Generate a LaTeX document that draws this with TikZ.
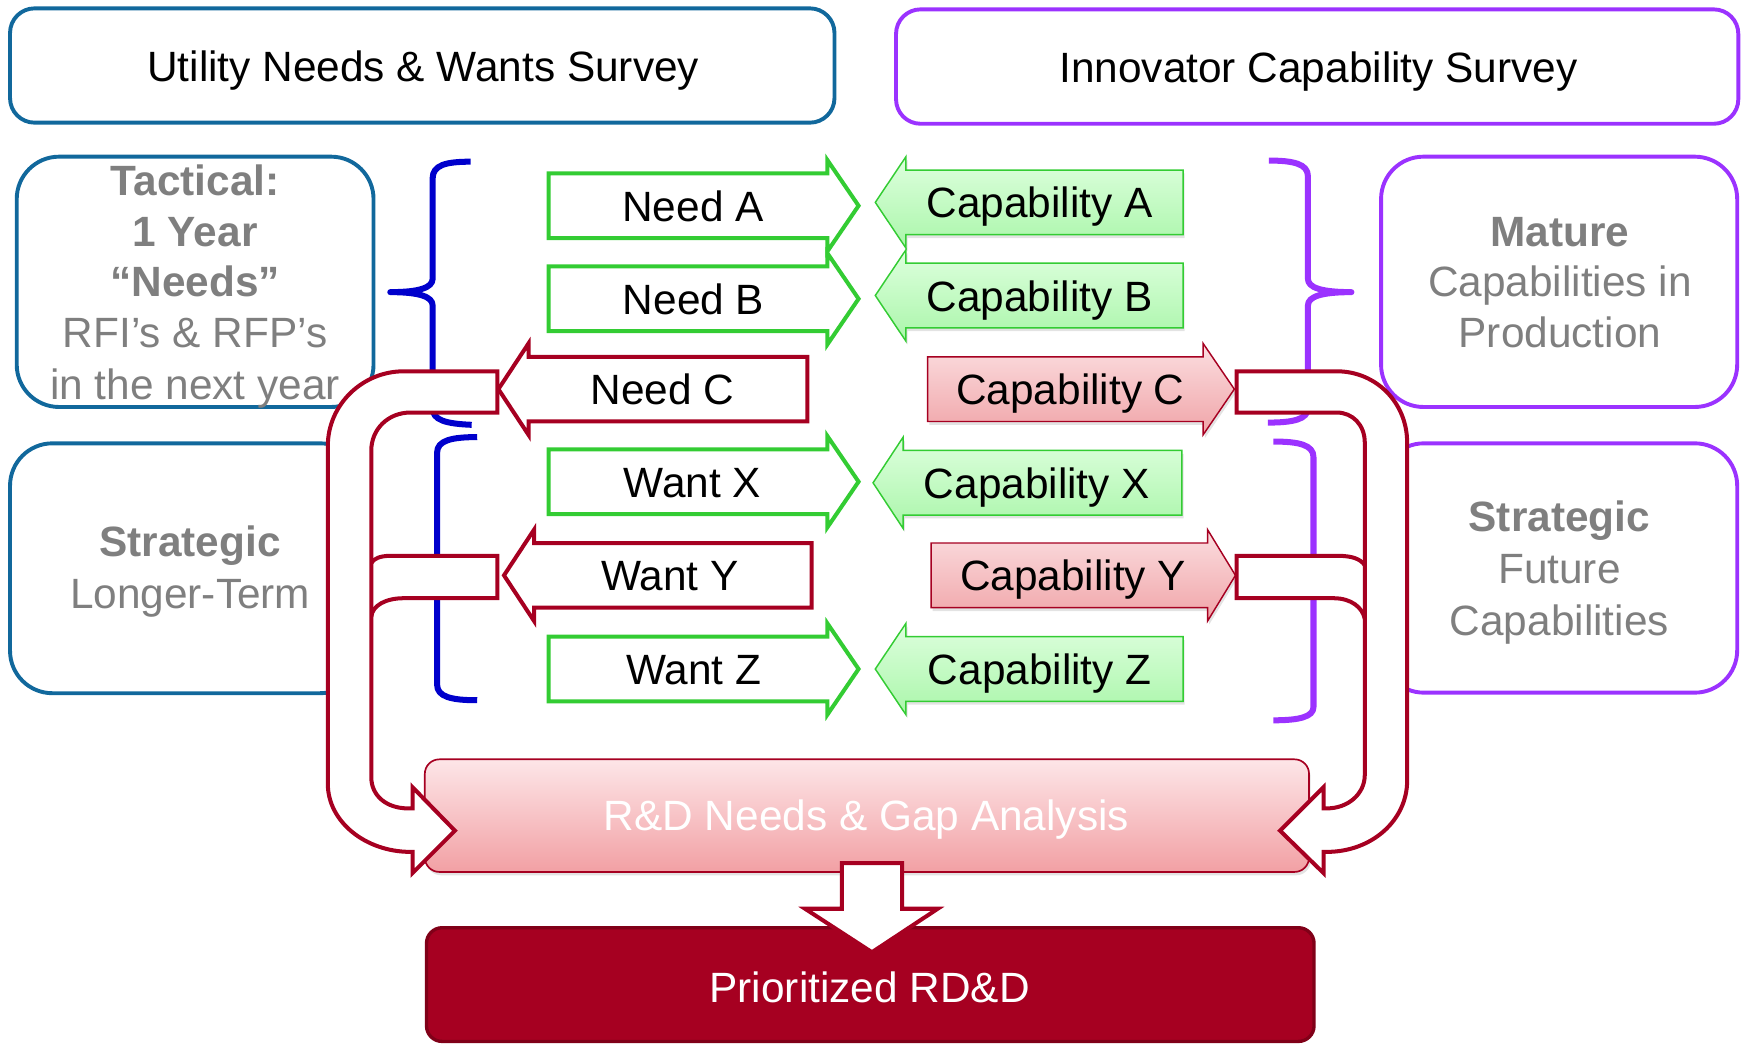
\documentclass[tikz,border=0pt]{standalone}
\usepackage{fontspec}
\setmainfont{Liberation Sans}
\usetikzlibrary{shadows}
\definecolor{boxblue}{RGB}{17,104,156}
\definecolor{boxpurple}{RGB}{155,50,255}
\definecolor{braceblue}{RGB}{0,0,204}
\definecolor{needgreen}{RGB}{51,204,51}
\definecolor{darkred}{RGB}{166,0,33}
\definecolor{prioborder}{RGB}{128,0,24}
\definecolor{txtgray}{RGB}{127,127,127}
\definecolor{capgtop}{RGB}{222,255,222}
\definecolor{capgbot}{RGB}{170,246,170}
\definecolor{caprtop}{RGB}{251,222,224}
\definecolor{caprbot}{RGB}{240,164,168}
\definecolor{rdtop}{RGB}{253,230,232}
\definecolor{rdbot}{RGB}{242,160,164}
\newcommand\BlockArrow[5]{\draw[#1] (#2,#5-29) -- (#3,#5-29) -- (#3,#5-41) -- (#4,#5) -- (#3,#5+41) -- (#3,#5+29) -- (#2,#5+29) -- cycle;}
\begin{document}
\begin{tikzpicture}[x=1pt,y=-1pt,
  bigfont/.style={font=\fontsize{38}{45}\selectfont},
  lbl/.style={bigfont, inner sep=0pt, text height=27pt, text depth=0pt},
  sidetxt/.style={bigfont, inner sep=0pt, anchor=base, text=txtgray},
  sidebold/.style={sidetxt, font=\fontsize{38}{45}\selectfont\bfseries},
  titlebox/.style={draw=#1, line width=3.5pt, rounded corners=22pt, fill=white, inner sep=0pt},
  sidebox/.style={draw=#1, line width=3.5pt, rounded corners=38pt, inner sep=0pt},
  bracestyle/.style={draw=#1, line width=5.4pt, line join=round},
  needarrow/.style={draw=needgreen, fill=white, line width=3.6pt},
  gaparrow/.style={draw=darkred, fill=white, line width=3.6pt},
  capshadow/.style={drop shadow={shadow xshift=1.5pt, shadow yshift=-3pt, opacity=0.22}},
  capgreen/.style={draw=needgreen, line width=1.3pt, top color=capgtop, bottom color=capgbot, capshadow},
  capred/.style={draw=darkred, line width=1.3pt, top color=caprtop, bottom color=caprbot, capshadow}
]
\useasboundingbox (0,0) rectangle (1567.7,937.2);

% title boxes
\node[titlebox=boxblue, minimum width=739.4pt, minimum height=102.5pt] (util) at (378.7,58.75) {};
\node[titlebox=boxpurple, minimum width=755.4pt, minimum height=102.6pt] (innov) at (1181.3,59.7) {};
\node[lbl] (utiltxt) at (379.5,59.2) {Utility Needs \& Wants Survey};
\node[lbl] (innovtxt) at (1182.5,60.75) {Innovator Capability Survey};

% side boxes
\node[sidebox=boxblue, minimum width=320pt, minimum height=224.5pt] (tact) at (175,252.75) {};
\node[sidebox=boxblue, minimum width=316pt, minimum height=224.1pt] (stratL) at (167,509.65) {};
\node[sidebox=boxpurple, minimum width=319.4pt, minimum height=224.5pt] (mature) at (1398.3,252.75) {};
\node[sidebox=boxpurple, minimum width=319pt, minimum height=223.6pt] (stratR) at (1398.5,509.4) {};

\node[sidebold] (t1) at (175,175) {Tactical:};
\node[sidebold] (t2) at (175,221.5) {1 Year};
\node[sidebold] (t3) at (175,266) {“Needs”};
\node[sidetxt] (t4) at (175,312) {RFI’s \& RFP’s};
\node[sidetxt] (t5) at (175,358) {in the next year};
\node[sidebold] (s1) at (170.5,499) {Strategic};
\node[sidetxt] (s2) at (170.5,545.5) {Longer-Term};
\node[sidebold] (m1) at (1399,221) {Mature};
\node[sidetxt] (m2) at (1399,266) {Capabilities in};
\node[sidetxt] (m3) at (1399,312) {Production};
\node[sidebold] (r1) at (1398.5,477) {Strategic};
\node[sidetxt] (r2) at (1398.5,523) {Future};
\node[sidetxt] (r3) at (1398.5,569.5) {Capabilities};

% braces
\draw[bracestyle=braceblue] (422,145) .. controls (400,145) and (388,148) .. (388,160) -- (388,250) .. controls (388,258) and (376,262) .. (350,262) .. controls (376,262) and (388,266) .. (388,274) -- (388,366) .. controls (388,377) and (400,380) .. (423,381);
\draw[bracestyle=braceblue] (428,392) .. controls (405,392) and (392,395) .. (392,406) -- (392,614) .. controls (392,625) and (405,628) .. (428,628);
\draw[bracestyle=boxpurple] (1138,144) .. controls (1160,144) and (1173,147) .. (1173,158) -- (1173,250) .. controls (1173,258) and (1185,262) .. (1212,262) .. controls (1185,262) and (1173,266) .. (1173,274) -- (1173,366) .. controls (1173,376) and (1160,379) .. (1137,379);
\draw[bracestyle=boxpurple] (1142,396) .. controls (1165,396) and (1178,399) .. (1178,410) -- (1178,634) .. controls (1178,643) and (1165,646) .. (1142,646);

% bottom boxes
\node[draw=darkred, line width=1.5pt, top color=rdtop, bottom color=rdbot, rounded corners=13pt, minimum width=793pt, minimum height=101pt, inner sep=0pt, capshadow] (rd) at (777.5,731.5) {};
\node[lbl, text=white] (rdtxt) at (777,731.4) {R\&D Needs \& Gap Analysis};
\node[draw=prioborder, fill=darkred, line width=3pt, rounded corners=14pt, minimum width=796pt, minimum height=102pt, inner sep=0pt] (prio) at (780.5,883) {};
\node[lbl, text=white] (priotxt) at (780,885.2) {Prioritized RD\&D};

% needs / wants
\BlockArrow{needarrow}{492}{742}{770}{184.5}
\BlockArrow{needarrow}{492}{742}{770}{268}
\BlockArrow{gaparrow}{724}{474}{447}{349}
\BlockArrow{needarrow}{492}{742}{770}{432}
\BlockArrow{gaparrow}{728}{479}{452}{516}
\BlockArrow{needarrow}{492}{742}{770}{600}
\node[lbl] (na) at (621.5,185.5) {Need A};
\node[lbl] (nb) at (622,268.5) {Need B};
\node[lbl] (nc) at (594,349.5) {Need C};
\node[lbl] (wx) at (621,432.5) {Want X};
\node[lbl] (wy) at (601,516.5) {Want Y};
\node[lbl] (wz) at (622,600.5) {Want Z};

% capabilities
\BlockArrow{capgreen}{1061}{812.5}{785}{181.5}
\BlockArrow{capgreen}{1061}{812.5}{785}{265}
\BlockArrow{capred}{832}{1079}{1107}{349}
\BlockArrow{capgreen}{1060}{810}{783}{433}
\BlockArrow{capred}{835}{1083}{1108}{516}
\BlockArrow{capgreen}{1061}{812.5}{785}{600}
\node[lbl] (ca) at (932.5,182) {Capability A};
\node[lbl] (cb) at (932.5,265.5) {Capability B};
\node[lbl] (cc) at (960,349.5) {Capability C};
\node[lbl] (cx) at (930,433.5) {Capability X};
\node[lbl] (cy) at (962.5,516.5) {Capability Y};
\node[lbl] (cz) at (932.5,600.5) {Capability Z};

% stubs feeding the gap channels
\filldraw[gaparrow] (333,505) .. controls (335,501) and (341,498.5) .. (350,498.5) -- (446,498.5) -- (446,536.5) -- (362,536.5) .. controls (346,536.5) and (334,543) .. (333,553);
\filldraw[gaparrow] (1224,507) .. controls (1220,501) and (1212,498.5) .. (1200,498.5) -- (1109,498.5) -- (1109,536.5) -- (1196,536.5) .. controls (1212,536.5) and (1222,545) .. (1224,555);

% big U arrows
\filldraw[gaparrow] (446,333) -- (362,333) .. controls (325,333) and (294,363) .. (294,400) -- (294,703) .. controls (294,737) and (328,764) .. (368,764) -- (370,764) -- (370,783) -- (408,745) -- (370,706) -- (370,725) -- (366,725) .. controls (347,725) and (333,714) .. (333,697) -- (333,404) .. controls (333,385) and (348,370) .. (368,370) -- (446,370) -- cycle;
\filldraw[gaparrow] (1109,333) -- (1199,333) .. controls (1234,333) and (1262,361) .. (1262,397) -- (1262,700) .. controls (1262,736) and (1230,764) .. (1190,764) -- (1187,764) -- (1187,783) -- (1148,745) -- (1187,706) -- (1187,725) -- (1190,725) .. controls (1209,725) and (1224,712) .. (1224,695) -- (1224,397) .. controls (1224,381) and (1213,370) .. (1199,370) -- (1109,370) -- cycle;

% down arrow
\filldraw[gaparrow] (755,774) -- (809,774) -- (809,815) -- (841,815) -- (782,854) -- (722,815) -- (755,815) -- cycle;
\end{tikzpicture}
\end{document}
